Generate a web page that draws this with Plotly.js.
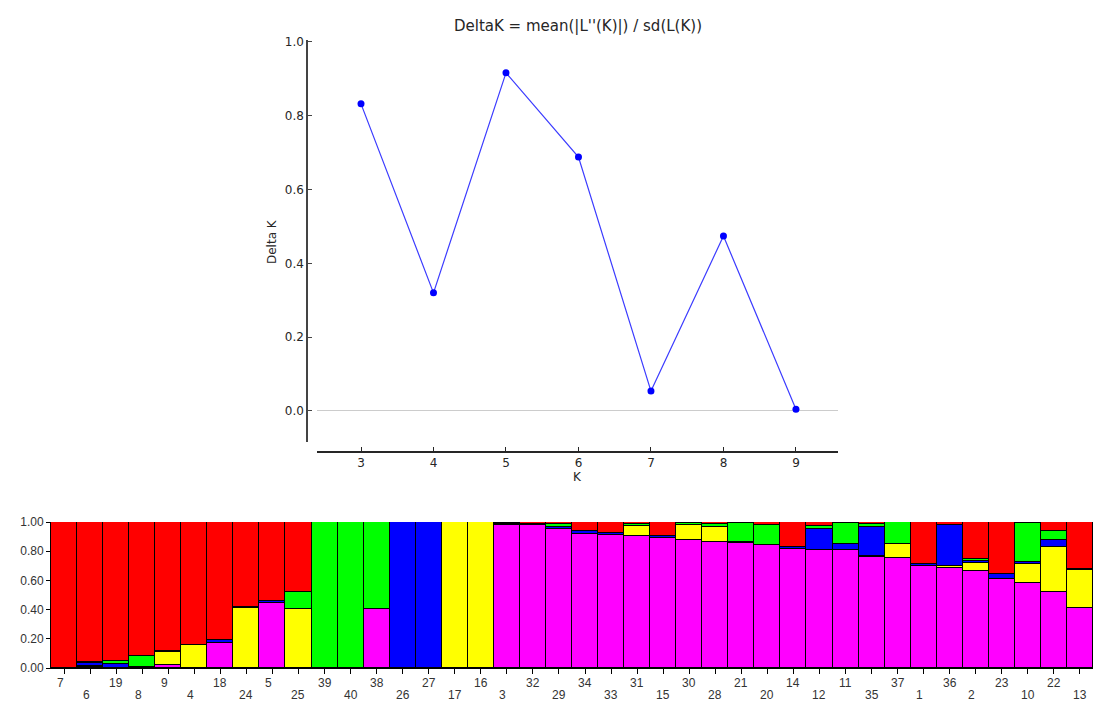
<!DOCTYPE html>
<html>
<head>
<meta charset="utf-8">
<script src="https://cdn.plot.ly/plotly-3.0.1.min.js"></script>
<style>html,body{margin:0;padding:0;background:#fff;}#chart{width:1099px;height:702px;}</style>
</head>
<body>
<div id="chart"></div>
<script>
// ---- Delta K (Evanno) ----
const K = [3, 4, 5, 6, 7, 8, 9];
const deltaK = [0.832, 0.320, 0.916, 0.688, 0.054, 0.474, 0.005];

// ---- Structure plot (K = 5) ----
const samples = ['7','6','19','8','9','4','18','24','5','25','39','40','38','26','27','17','16','3','32','29',
                 '34','33','31','15','30','28','21','20','14','12','11','35','37','1','36','2','23','10','22','13'];
const clusterMagenta = [0,0.005,0,0,0.023,0,0.17,0,0.447,0,0,0,0.402,0,0,0,0,0.978,0.98,0.95,
                        0.92,0.911,0.904,0.89,0.877,0.865,0.858,0.845,0.817,0.81,0.81,0.763,0.756,0.699,0.687,0.664,0.607,0.584,0.521,0.413];
const clusterYellow  = [0,0.008,0,0,0.087,0.155,0,0.413,0,0.406,0,0,0,0,0,1,1,0,0,0,
                        0,0,0.068,0,0.105,0.103,0,0,0,0,0,0.005,0.093,0,0.012,0.053,0,0.126,0.31,0.256];
const clusterBlue    = [0,0.02,0.03,0.007,0.006,0.003,0.02,0.005,0.015,0,0,0,0,1,1,0,0,0.01,0,0.018,
                        0.018,0.012,0,0.012,0,0,0.007,0,0.015,0.145,0.04,0.2,0,0.014,0.28,0.016,0.035,0.018,0.046,0.011];
const clusterGreen   = [0,0.005,0.018,0.075,0,0,0,0,0,0.114,1,1,0.598,0,0,0,0,0.004,0.008,0.018,
                        0,0,0.016,0,0.008,0.017,0.13,0.132,0,0.015,0.142,0.018,0.151,0,0,0.012,0,0.265,0.064,0];
const clusterRed     = [1,0.962,0.952,0.918,0.884,0.842,0.81,0.582,0.538,0.48,0,0,0,0,0,0,0,0.008,0.012,0.014,
                        0.062,0.077,0.012,0.098,0.01,0.015,0.005,0.023,0.168,0.03,0.008,0.014,0,0.287,0.021,0.255,0.358,0.007,0.059,0.32];

const clusterSeries = [
  {name: 'Cluster 5', values: clusterMagenta, color: '#ff00ff'},
  {name: 'Cluster 4', values: clusterYellow,  color: '#ffff00'},
  {name: 'Cluster 3', values: clusterBlue,    color: '#0000ff'},
  {name: 'Cluster 2', values: clusterGreen,   color: '#00ff00'},
  {name: 'Cluster 1', values: clusterRed,     color: '#ff0000'}
];

const W = 1099, H = 702;
const px = v => v / W;
const py = v => 1 - v / H;

// bar positions = order of the samples along the plot
const pos = samples.map((s, i) => i);

const traces = [{
  x: K, y: deltaK, type: 'scatter', mode: 'lines+markers',
  xaxis: 'x', yaxis: 'y',
  line: {color: '#3b3bff', width: 1.2},
  marker: {color: '#0000ff', size: 7},
  hoverinfo: 'x+y'
}];
clusterSeries.forEach(s => {
  traces.push({
    x: pos, y: s.values, type: 'bar', name: s.name,
    text: samples, hovertemplate: '%{text}: %{y}<extra>' + s.name + '</extra>', textposition: 'none',
    xaxis: 'x2', yaxis: 'y2',
    marker: {color: s.color, line: {color: '#000', width: 1}}
  });
});

const topFont = {family: 'DejaVu Sans, sans-serif', size: 12, color: '#262626'};
const botFont = {family: 'Liberation Sans, Arial, sans-serif', size: 12, color: '#333'};

const annotations = [
  {text: 'Delta K', xref: 'paper', yref: 'paper', x: px(272), y: py(242), textangle: -90,
   showarrow: false, xanchor: 'center', yanchor: 'middle', font: topFont},
  {text: 'K', xref: 'paper', yref: 'paper', x: px(577), y: py(477),
   showarrow: false, xanchor: 'center', yanchor: 'middle', font: topFont}
];
samples.forEach((s, i) => {
  annotations.push({
    text: s, xref: 'x2', yref: 'paper', x: pos[i], y: py(i % 2 === 0 ? 683 : 695),
    xshift: s.length === 1 ? -4 : 0,
    showarrow: false, xanchor: 'center', yanchor: 'middle', font: botFont
  });
});

const layout = {
  width: W, height: H,
  margin: {l: 0, r: 0, t: 0, b: 0},
  paper_bgcolor: '#fff', plot_bgcolor: 'rgba(0,0,0,0)',
  showlegend: false,
  barmode: 'stack', bargap: 0,
  title: {text: "DeltaK = mean(|L''(K)|) / sd(L(K))", x: px(578), y: py(26),
          xanchor: 'center', yanchor: 'middle', xref: 'paper', yref: 'paper',
          font: {family: 'DejaVu Sans, sans-serif', size: 15, color: '#262626'}},
  xaxis: {
    domain: [px(317), px(838)], anchor: 'free', position: py(452),
    range: [2.393, 9.58], tickvals: K, ticktext: K.map(String),
    showgrid: false, zeroline: false,
    showline: true, linecolor: '#262626', linewidth: 1.5,
    ticks: 'inside', ticklen: 4, tickcolor: '#262626',
    tickfont: topFont
  },
  yaxis: {
    domain: [py(442), py(40)], anchor: 'free', position: px(307),
    range: [-0.084, 1.005], tickvals: [0, 0.2, 0.4, 0.6, 0.8, 1.0],
    ticktext: ['0.0', '0.2', '0.4', '0.6', '0.8', '1.0'],
    showgrid: false, zeroline: true, zerolinecolor: '#cccccc', zerolinewidth: 1,
    showline: true, linecolor: '#444', linewidth: 1.5,
    ticks: 'inside', ticklen: 4, tickcolor: '#444',
    tickfont: topFont
  },
  xaxis2: {
    domain: [px(51), px(1093)], anchor: 'y2',
    range: [-0.5, samples.length - 0.5], tickvals: pos,
    showgrid: false, zeroline: false, showticklabels: false,
    showline: true, linecolor: '#000', linewidth: 1,
    ticks: 'outside', ticklen: 5, tickcolor: '#000'
  },
  yaxis2: {
    domain: [py(668), py(522)], anchor: 'x2', range: [0, 1],
    tickvals: [0, 0.2, 0.4, 0.6, 0.8, 1.0],
    ticktext: ['0.00', '0.20', '0.40', '0.60', '0.80', '1.00'],
    showgrid: false, zeroline: false,
    showline: true, linecolor: '#000', linewidth: 1,
    ticks: 'outside', ticklen: 4, tickcolor: '#000',
    tickfont: botFont
  },
  annotations: annotations
};

Plotly.newPlot('chart', traces, layout, {displayModeBar: false, responsive: false});
</script>
</body>
</html>
